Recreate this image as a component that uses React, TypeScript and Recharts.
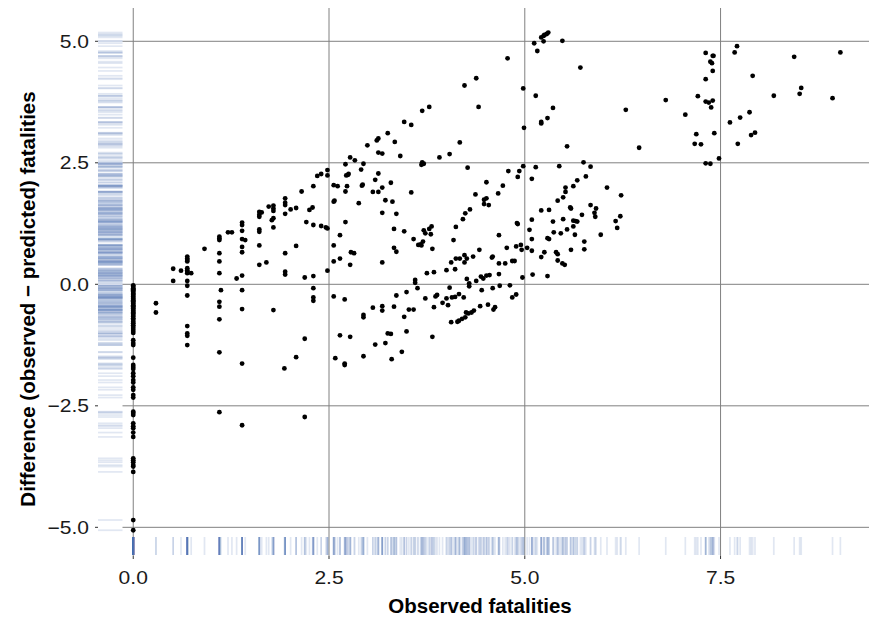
import { ScatterChart, Scatter, XAxis, YAxis, ReferenceLine, Label } from "recharts"

// axes
const xTicks = [0, 2.5, 5, 7.5]
const yTicks = [-5, -2.5, 0, 2.5, 5]
const xDomain: [number, number] = [-0.45, 9.485]
const yDomain: [number, number] = [-5.59, 5.685]
// x value where the left rug strip stops (horizontal gridlines start there)
const rugEdge = -0.137

// difference for events with observed (log) fatalities = 0
const singleFatalityDiffs = [
  -0.02, -0.05, -0.08, -0.1, -0.12, -0.15, -0.18, -0.2, -0.22, -0.25, -0.28, -0.3, -0.33, -0.35,
  -0.38, -0.4, -0.43, -0.45, -0.48, -0.5, -0.53, -0.55, -0.58, -0.6, -0.63, -0.66, -0.7, -0.73,
  -0.77, -0.8, -0.84, -0.88, -0.92, -0.96, -1.0, -1.15, -1.21, -1.25, -1.51, -1.66, -1.7, -1.74,
  -1.83, -1.89, -1.97, -2.02, -2.12, -2.17, -2.28, -2.33, -2.62, -2.65, -2.69, -2.86, -2.92,
  -2.96, -3.05, -3.14, -3.58, -3.62, -3.66, -3.72, -3.75, -3.86, -4.85, -5.06,
]

// [observed, difference]
const smallEvents: [number, number][] = [
  [0.29, -0.39], [0.29, -0.58], [0.51, 0.32], [0.51, 0.07], [0.61, 0.28],
  [0.69, 0.57], [0.69, 0.53], [0.69, 0.5], [0.69, 0.47], [0.69, 0.33], [0.69, 0.29], [0.69, 0.26],
  [0.69, 0.23], [0.74, 0.23], [0.69, 0.07], [0.69, -0.03], [0.69, -0.23], [0.69, -0.86],
  [0.69, -1.01], [0.69, -1.06], [0.69, -1.25], [0.91, 0.73],
  [1.1, 0.98], [1.1, 0.94], [1.1, 0.91], [1.1, 0.64], [1.1, 0.47], [1.1, 0.23], [1.12, -0.12],
  [1.1, -0.36], [1.1, -0.46], [1.1, -0.72], [1.1, -1.4], [1.1, -2.63], [1.21, 1.07], [1.26, 1.07],
  [1.39, 1.27], [1.39, 1.22], [1.39, 1.1], [1.39, 0.93], [1.43, 0.91], [1.39, 0.77], [1.39, 0.66],
  [1.32, 0.12], [1.39, 0.18], [1.39, -0.12], [1.39, -0.51], [1.39, -1.63], [1.39, -2.9],
  [1.61, 1.49], [1.64, 1.48], [1.61, 1.43], [1.61, 1.39], [1.61, 1.13], [1.61, 1.08], [1.61, 0.8],
  [1.61, 0.4], [1.7, 0.45], [1.73, 1.6], [1.79, 1.62], [1.79, 1.56], [1.79, 1.51], [1.77, 1.32],
  [1.79, 1.36], [1.79, 1.17], [1.79, -0.53], [1.94, 1.77], [1.94, 1.68], [1.94, 1.63],
  [1.94, 1.45], [1.94, 0.64], [1.94, 0.26], [1.94, 0.2], [1.93, -1.73],
]

const midEvents: [number, number][] = [
  [3.69, 3.57], [3.78, 3.65], [3.46, 3.34], [3.55, 3.28], [3.25, 3.11], [3.13, 3.0], [3.11, 2.96],
  [3.34, 2.93], [2.99, 2.86], [3.13, 2.71], [3.18, 2.69], [3.41, 2.64], [3.91, 2.61], [2.77, 2.61],
  [2.83, 2.55], [2.94, 2.48], [2.71, 2.47], [3.69, 2.51], [3.71, 2.48], [3.68, 2.46],
  [2.48, 2.35], [2.48, 2.24], [2.4, 2.27], [2.35, 2.23], [2.3, 2.02], [2.15, 1.91], [2.56, 2.04],
  [2.61, 2.02], [2.73, 2.02], [2.71, 1.91], [2.74, 2.25], [2.75, 2.27], [2.72, 2.24], [2.91, 2.36],
  [2.93, 2.05], [2.92, 2.03], [3.09, 2.15], [3.13, 2.28], [3.18, 1.99], [3.29, 2.09], [3.06, 1.9],
  [3.13, 1.9], [3.55, 1.89], [2.01, 1.54], [2.08, 1.57], [2.25, 1.53], [2.29, 1.58], [2.57, 1.72],
  [2.56, 1.7], [2.88, 1.67], [3.22, 1.73], [3.31, 1.7], [3.18, 1.47], [3.36, 1.45],
  [3.82, 0.73], [3.8, 1.03], [3.78, 1.14], [3.81, 1.19], [3.73, 1.05], [3.71, 1.11], [3.64, 0.81],
  [3.67, 0.82], [3.7, 0.88], [3.68, 0.8], [3.58, 0.93], [3.46, 1.09], [3.33, 1.14], [3.33, 0.75],
  [3.36, 0.67], [2.78, 0.66], [2.82, 0.64], [2.71, 1.28], [2.64, 1.01], [2.56, 0.8], [2.64, 0.53],
  [2.48, 1.15], [2.46, 1.17], [2.4, 1.2], [2.3, 1.22], [2.21, 1.28], [2.08, 0.79],
  [2.19, 0.14], [2.3, 0.17], [2.48, 0.28], [2.56, 0.47], [2.77, 0.4], [3.18, 0.45], [3.75, 0.23],
  [3.84, 0.25], [3.6, 0.09], [3.6, 0.03], [3.63, -0.08], [3.73, -0.29], [3.86, -0.25],
  [3.88, -0.22], [3.95, -0.38], [2.3, -0.08], [2.56, -0.25], [2.3, -0.27], [2.3, -0.34],
  [2.7, -0.31], [3.36, -0.23], [3.49, -0.16], [3.84, -0.47], [2.94, -0.63], [2.94, -0.68],
  [3.06, -0.48], [3.18, -0.45], [3.18, -0.54], [3.33, -0.46], [3.46, -0.67], [3.52, -0.52],
  [3.58, -0.52], [2.19, -1.12], [2.64, -1.05], [2.77, -1.08], [3.09, -1.24], [3.22, -1.21],
  [3.25, -1.01], [3.29, -1.02], [3.49, -0.97], [3.82, -1.08], [2.08, -1.5], [2.58, -1.52],
  [2.7, -1.63], [2.7, -1.66], [2.94, -1.48], [3.3, -1.54], [3.43, -1.39], [2.19, -2.73],
]

const largeEvents: [number, number][] = [
  [5.12, 4.96], [5.16, 4.8], [5.24, 5.0], [5.21, 5.08], [5.24, 5.11], [5.25, 5.13], [5.28, 5.15],
  [5.3, 5.18], [4.78, 4.65], [4.38, 4.24], [4.23, 4.09], [4.41, 3.65], [4.98, 4.03], [5.14, 3.88],
  [5.36, 3.63], [4.99, 3.22], [5.29, 3.42], [5.21, 3.34], [5.21, 3.31], [4.17, 2.92], [4.04, 2.68],
  [4.27, 2.4], [4.98, 2.43], [5.14, 2.41], [5.44, 2.43], [4.79, 2.33], [4.93, 2.33], [4.91, 2.21],
  [5.09, 2.17], [5.42, 1.72], [4.51, 2.1], [4.37, 1.85], [4.72, 2.03], [4.66, 1.87], [4.48, 1.74],
  [4.51, 1.77], [4.48, 1.65], [4.54, 1.63], [4.3, 1.54], [4.24, 1.46], [4.21, 1.34],
  [5.21, 1.52], [5.31, 1.53], [5.09, 1.33], [5.36, 1.29], [5.06, 1.12], [5.09, 0.93], [4.9, 1.26],
  [4.91, 1.24], [4.67, 1.01], [5.09, 0.69], [4.95, 0.81], [4.96, 0.71], [5.03, 0.75], [4.89, 0.78],
  [4.77, 0.75], [4.59, 0.57], [4.58, 0.55], [4.42, 0.71], [4.34, 0.57], [4.23, 0.6], [4.17, 0.53],
  [4.12, 0.53], [4.26, 0.53], [4.09, 0.91], [4.12, 1.18], [5.21, 0.56], [5.25, 0.66], [5.4, 0.66],
  [5.42, 0.62], [5.29, 0.95], [5.31, 0.93], [5.37, 1.07],
  [4.06, 0.45], [4.23, 0.45], [4.0, 0.29], [4.11, 0.31], [4.0, -0.29], [4.02, -0.43], [4.04, -0.07],
  [4.07, -0.27], [4.11, -0.26], [4.16, -0.2], [4.22, -0.27], [4.26, 0.11], [4.29, 0.02],
  [4.29, -0.04], [4.38, 0.07], [4.44, 0.16], [4.47, 0.12], [4.51, 0.18], [4.55, 0.19],
  [4.45, -0.12], [4.59, -0.08], [4.67, 0.21], [4.68, -0.03], [4.81, -0.02], [4.84, -0.27],
  [4.89, -0.21], [4.97, 0.14], [5.1, 0.2], [5.29, 0.17], [5.42, 0.49], [4.67, 0.43], [4.75, 0.43],
  [4.84, 0.48], [4.87, 0.48], [4.06, -0.78], [4.14, -0.77], [4.16, -0.75], [4.2, -0.71],
  [4.24, -0.68], [4.25, -0.58], [4.28, -0.6], [4.32, -0.58], [4.35, -0.54], [4.43, -0.45],
  [4.53, -0.42], [4.6, -0.52], [4.62, -0.47],
]

const extremeEvents: [number, number][] = [
  [5.48, 5.01], [5.71, 4.46], [6.29, 3.59], [6.46, 2.81], [6.8, 3.79], [7.21, 3.87], [7.31, 4.76],
  [7.4, 4.7], [7.41, 4.7], [7.37, 4.58], [7.39, 4.55], [7.4, 4.39], [7.31, 4.22], [7.31, 3.76],
  [7.35, 3.74], [7.4, 3.78], [7.38, 3.64], [7.05, 3.49], [7.19, 3.09], [7.42, 3.11], [7.17, 2.89],
  [7.25, 2.88], [7.31, 2.49], [7.37, 2.48], [7.48, 2.59], [7.71, 4.9], [7.68, 4.77], [7.91, 4.29],
  [8.18, 3.88], [8.44, 4.68], [8.53, 4.04], [8.51, 3.92], [9.03, 4.77], [8.93, 3.83], [7.62, 3.33],
  [7.75, 3.43], [7.87, 3.54], [7.89, 3.07], [7.94, 3.12], [7.72, 2.89],
  [5.54, 2.84], [5.75, 2.51], [5.84, 2.42], [5.78, 2.22], [5.67, 2.14], [5.62, 2.02], [5.52, 1.99],
  [5.52, 1.9], [5.49, 1.79], [6.05, 1.99], [6.23, 1.83], [5.58, 1.58], [5.59, 1.56], [5.73, 1.43],
  [5.84, 1.63], [5.91, 1.56], [5.89, 1.47], [5.9, 1.39], [5.49, 1.34], [5.62, 1.31], [5.65, 1.3],
  [5.67, 1.29], [5.62, 1.19], [5.54, 1.13], [5.46, 1.05], [5.64, 1.02], [5.97, 1.02], [6.22, 1.4],
  [6.16, 1.3], [6.18, 1.16], [5.76, 0.88], [5.59, 0.71], [5.76, 0.72], [5.48, 0.43], [5.51, 0.4],
]

const rugColor = "#4c72b0"
const gridColor = "#808080"

const points = [
  ...singleFatalityDiffs.map((y) => ({ x: 0, y })),
  ...[...smallEvents, ...midEvents, ...largeEvents, ...extremeEvents].map(([x, y]) => ({ x, y })),
]
const xRug = points.map((p) => ({ x: p.x, y: yDomain[0] }))
const yRug = points.map((p) => ({ x: xDomain[0], y: p.y }))

const fmt = (v: number) => (v < 0 ? "\u2212" + Math.abs(v).toFixed(1) : v.toFixed(1))

const Dot = (p: any) => <circle cx={p.cx} cy={p.cy} r={2.4} fill="#000" />

const XRugLine = (p: any) => (
  <line x1={p.cx} x2={p.cx} y1={p.cy - 1} y2={p.cy - 19} stroke={rugColor} strokeOpacity={0.17} strokeWidth={1.7} />
)

const YRugLine = (p: any) => (
  <line x1={p.cx} x2={p.cx + 24.5} y1={p.cy} y2={p.cy} stroke={rugColor} strokeOpacity={0.17} strokeWidth={1.7} />
)

// tick labels are a little wider than tall in the reference
const XTick = (p: any) => (
  <g transform={`translate(${p.x},${p.y}) scale(1.17,1)`}>
    <text x={0} y={0} dy="0.71em" textAnchor="middle" style={{ fontSize: 18, fill: "#1a1a1a" }}>
      {fmt(p.payload.value)}
    </text>
  </g>
)

const YTick = (p: any) => (
  <g transform={`translate(${p.x},${p.y}) scale(1.17,1)`}>
    <text x={0} y={0} dy="0.355em" textAnchor="end" style={{ fontSize: 18, fill: "#1a1a1a" }}>
      {fmt(p.payload.value)}
    </text>
  </g>
)

const YTitle = () => (
  <text
    x={27}
    y={299}
    transform="rotate(-90 27 299)"
    textAnchor="middle"
    dominantBaseline="central"
    style={{ fontSize: 20.5, fontWeight: 700, fill: "#000" }}
  >
    Difference (observed − predicted) fatalities
  </text>
)

export default function App() {
  return (
    <div
      style={{
        position: "absolute",
        left: 0,
        top: 0,
        width: 869,
        height: 618,
        overflow: "hidden",
        background: "#fff",
        fontFamily: "'Liberation Sans', Arial, sans-serif",
      }}
    >
      <ScatterChart width={880} height={618} margin={{ top: 8, right: 4, bottom: 0, left: 0 }}>
        {xTicks.map((t) => (
          <ReferenceLine key={"vx" + t} x={t} stroke={gridColor} strokeWidth={1} />
        ))}
        {yTicks.map((t) => (
          <ReferenceLine
            key={"hy" + t}
            segment={[
              { x: rugEdge, y: t },
              { x: xDomain[1], y: t },
            ]}
            stroke={gridColor}
            strokeWidth={1}
          />
        ))}
        <XAxis
          type="number"
          dataKey="x"
          domain={xDomain}
          ticks={xTicks}
          allowDataOverflow
          interval={0}
          axisLine={false}
          tickLine={{ stroke: "#333" }}
          tickSize={3}
          tickMargin={12}
          height={62}
          tick={XTick}
        >
          <Label
            value="Observed fatalities"
            position="insideBottom"
            offset={5}
            dx={-7}
            style={{ fontSize: 20.5, fontWeight: 700, fill: "#000" }}
          />
        </XAxis>
        <YAxis
          type="number"
          dataKey="y"
          domain={yDomain}
          ticks={yTicks}
          allowDataOverflow
          interval={0}
          axisLine={false}
          tickLine={{ stroke: "#333" }}
          tickSize={3}
          tickMargin={6}
          width={98}
          tick={YTick}
        >
          <Label content={YTitle} />
        </YAxis>
        <Scatter data={xRug} shape={XRugLine} isAnimationActive={false} />
        <Scatter data={yRug} shape={YRugLine} isAnimationActive={false} />
        <Scatter data={points} shape={Dot} isAnimationActive={false} />
      </ScatterChart>
    </div>
  )
}
